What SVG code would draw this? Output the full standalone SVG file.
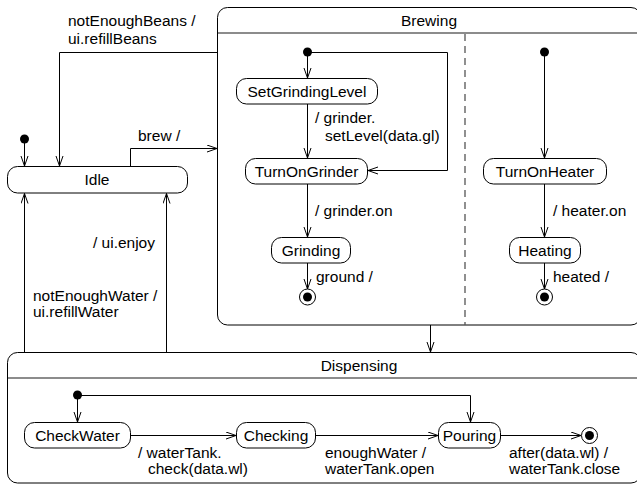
<svg xmlns="http://www.w3.org/2000/svg" width="637" height="487" viewBox="0 0 637 487">
<style>
text{font-family:"Liberation Sans",Arial,sans-serif;font-size:15.5px;fill:#000}
.c{text-anchor:middle}
.st{fill:#fff;stroke:#000;stroke-width:1}
.comp{fill:#fff;stroke:#000;stroke-width:1}
.hdr{stroke:#666;stroke-width:1.6;fill:none}
.e{fill:none;stroke:#000;stroke-width:1;marker-end:url(#a)}
.dot{fill:#000}
.fin{fill:#fff;stroke:#000;stroke-width:1}
</style>
<defs>
<marker id="a" markerWidth="12" markerHeight="10" refX="10" refY="4" orient="auto" markerUnits="userSpaceOnUse">
<path d="M0,0.5 L10,4 L0,7.5" fill="none" stroke="#000" stroke-width="1"/>
</marker>
</defs>
<rect width="637" height="487" fill="#fff"/>

<g id="Brewing">
<rect class="comp" x="217.5" y="7.5" width="423.5" height="317.5" rx="10"/>
<line class="hdr" x1="218" y1="33" x2="641" y2="33"/>
<text class="c" x="429" y="25.5">Brewing</text>
<line x1="465" y1="34" x2="465" y2="325" stroke="#555" stroke-width="1.3" stroke-dasharray="7,5"/>
</g>

<g id="Dispensing">
<rect class="comp" x="7.5" y="352.5" width="633.5" height="130.5" rx="10"/>
<line class="hdr" x1="8" y1="378" x2="641" y2="378"/>
<text class="c" x="359" y="370.5">Dispensing</text>
</g>

<g id="Idle">
<rect class="st" x="7.5" y="166.5" width="180" height="26.5" rx="10"/>
<text class="c" x="97" y="184.5">Idle</text>
</g>

<g id="SetGrindingLevel">
<rect class="st" x="236.5" y="78.5" width="141" height="25.5" rx="10"/>
<text class="c" x="307" y="96.5">SetGrindingLevel</text>
</g>

<g id="TurnOnGrinder">
<rect class="st" x="245.5" y="158.5" width="122" height="25.5" rx="10"/>
<text class="c" x="306.5" y="176.5">TurnOnGrinder</text>
</g>

<g id="Grinding">
<rect class="st" x="271.5" y="237.5" width="79" height="25.5" rx="10"/>
<text class="c" x="311" y="255.5">Grinding</text>
</g>

<g id="TurnOnHeater">
<rect class="st" x="483.5" y="158.5" width="123" height="25.5" rx="10"/>
<text class="c" x="545" y="176.5">TurnOnHeater</text>
</g>

<g id="Heating">
<rect class="st" x="509.5" y="237.5" width="71" height="25.5" rx="10"/>
<text class="c" x="545" y="255.5">Heating</text>
</g>

<g id="CheckWater">
<rect class="st" x="24.5" y="422.5" width="106" height="25.5" rx="10"/>
<text class="c" x="77.5" y="440.5">CheckWater</text>
</g>

<g id="Checking">
<rect class="st" x="236.5" y="422.5" width="79" height="25.5" rx="10"/>
<text class="c" x="276" y="440.5">Checking</text>
</g>

<g id="Pouring">
<rect class="st" x="438.5" y="422.5" width="62" height="25.5" rx="10"/>
<text class="c" x="469.5" y="440.5">Pouring</text>
</g>

<g id="pseudostates">
<circle class="dot" cx="24.5" cy="139" r="4.5"/>
<circle class="dot" cx="307.5" cy="52" r="4.5"/>
<circle class="dot" cx="544.5" cy="52" r="4.5"/>
<circle class="dot" cx="77.5" cy="395" r="4.5"/>
<circle class="fin" cx="307.5" cy="297" r="8"/>
<circle class="dot" cx="307.5" cy="297" r="4.5"/>
<circle class="fin" cx="544.5" cy="297" r="8"/>
<circle class="dot" cx="544.5" cy="297" r="4.5"/>
<circle class="fin" cx="589.5" cy="435.5" r="8"/>
<circle class="dot" cx="589.5" cy="435.5" r="4.5"/>
</g>

<g id="connectors">
<path class="e" d="M24.5,143 V166"/>
<path class="e" d="M217.5,52.5 H59.5 V166"/>
<path class="e" d="M130.5,166 V148.5 H217"/>
<path class="e" d="M307.5,52 V78"/>
<path class="e" d="M307.5,52.5 H447.5 V170.5 H368"/>
<path class="e" d="M307.5,104 V158"/>
<path class="e" d="M307.5,184 V237"/>
<path class="e" d="M307.5,263 V289"/>
<path class="e" d="M544.5,52 V158"/>
<path class="e" d="M544.5,184 V237"/>
<path class="e" d="M544.5,263 V289"/>
<path class="e" d="M430.5,325 V352"/>
<path class="e" d="M24.5,352 V193.5"/>
<path class="e" d="M166.5,352 V193.5"/>
<path class="e" d="M77.5,395 V422"/>
<path class="e" d="M77.5,395.5 H470.5 V422"/>
<path class="e" d="M130.5,435.5 H236"/>
<path class="e" d="M315.5,435.5 H438"/>
<path class="e" d="M500.5,435.5 H581"/>
</g>

<g id="labels">
<text x="68" y="25.5">notEnoughBeans /</text>
<text x="68" y="43.5">ui.refillBeans</text>
<text x="138" y="140.5">brew /</text>
<text x="315" y="122.5">/ grinder.</text>
<text x="325" y="140.5">setLevel(data.gl)</text>
<text x="315" y="215.5">/ grinder.on</text>
<text x="316" y="281.5">ground /</text>
<text x="553" y="215.5">/ heater.on</text>
<text x="553" y="281.5">heated /</text>
<text x="155" y="247.5" text-anchor="end">/ ui.enjoy</text>
<text x="33" y="300.5">notEnoughWater /</text>
<text x="33" y="316.5">ui.refillWater</text>
<text x="138" y="457.5">/ waterTank.</text>
<text x="148" y="473.5">check(data.wl)</text>
<text x="325" y="457.5">enoughWater /</text>
<text x="325" y="473.5">waterTank.open</text>
<text x="509" y="457.5">after(data.wl) /</text>
<text x="509" y="473.5">waterTank.close</text>
</g>
</svg>
